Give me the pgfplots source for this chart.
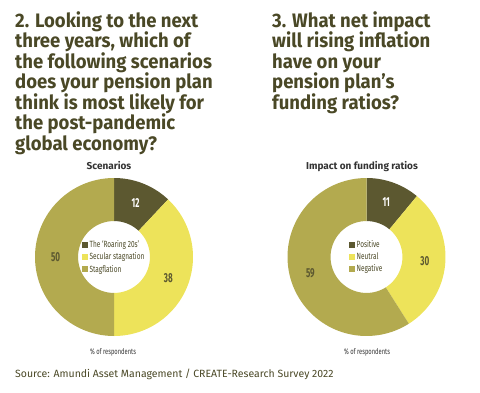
\documentclass[border=0pt]{standalone}
\usepackage{fontspec}
\usepackage{pgfplots}
\pgfplotsset{compat=1.18}
\setmainfont{Fira Sans}
\newfontfamily\headfont[FakeStretch=0.95]{Fira Sans}
\newfontfamily\condfont[FakeStretch=0.72]{Fira Sans}
\newfontfamily\numfont[FakeStretch=0.62]{Fira Sans}
\definecolor{cdark}{HTML}{5C5830}
\definecolor{cyel}{HTML}{EDE35A}
\definecolor{ckhaki}{HTML}{B3AA4F}
\definecolor{ctext}{HTML}{4A4826}
\definecolor{ctitle}{HTML}{333333}

% annular sector from angle #1 to #2 (degrees), outer radius 1, inner 0.455
\newcommand\slice[3]{%
  \addplot[fill=#3, draw=none, domain=0:2, samples=161, variable=\t, forget plot]
   ({(\t<=1.005 ? 1 : 0.455)*cos(\t<=1.005 ? (#1)+((#2)-(#1))*\t : (#2)-((#2)-(#1))*(\t-1.0125)/0.9875)},
    {(\t<=1.005 ? 1 : 0.455)*sin(\t<=1.005 ? (#1)+((#2)-(#1))*\t : (#2)-((#2)-(#1))*(\t-1.0125)/0.9875)});
}
\pgfplotsset{donut/.style={hide axis, scale only axis, width=158pt, height=158pt,
  xmin=-1, xmax=1, ymin=-1, ymax=1, anchor=center, clip=false,
  legend cell align=left,
  legend image code/.code={\fill[##1,draw=none] (0pt,-3pt) rectangle (6pt,3pt);},
  legend style={at={(0.5,0.5)}, anchor=center, draw=none, fill=none,
    font=\condfont\fontsize{9}{10}\selectfont, text=ctext,
    nodes={inner sep=1.3pt}, row sep=1.2pt}}}

\begin{document}
\begin{tikzpicture}
\path[use as bounding box] (0pt,0pt) rectangle (480pt,392pt);

\node[anchor=north west, align=left, inner sep=0pt, text=ctext,
  font=\headfont\bfseries\fontsize{19.5}{20.5}\selectfont] at (15pt,381pt)
  {2. Looking to the next\\three years, which of\\the following scenarios\\does your pension plan\\think is most likely for\\the post-pandemic\\global economy?};
\node[anchor=north west, align=left, inner sep=0pt, text=ctext,
  font=\headfont\bfseries\fontsize{19.5}{20.5}\selectfont] at (272pt,381pt)
  {3. What net impact\\will rising inflation\\have on your\\pension plan’s\\funding ratios?};

\node[anchor=base, text=ctitle, font=\bfseries\fontsize{10}{12}\selectfont] at (109pt,223pt) {Scenarios};
\node[anchor=base, text=ctitle, font=\bfseries\fontsize{10}{12}\selectfont] at (362pt,223pt) {Impact on funding ratios};

\begin{axis}[donut, at={(114pt,135pt)}]
  \addlegendimage{fill=cdark}
  \addlegendimage{fill=cyel}
  \addlegendimage{fill=ckhaki}
  \slice{46.8}{90}{cdark}
  \slice{-90}{46.8}{cyel}
  \slice{-270}{-90}{ckhaki}
  \legend{The ‘Roaring 20s’, Secular stagnation, Stagflation}
  \node[font=\numfont\bfseries\fontsize{13}{14}\selectfont, text=white] at (axis cs:{0.74*cos(68.4)},{0.74*sin(68.4)}) {12};
  \node[font=\numfont\bfseries\fontsize{13}{14}\selectfont, text=cdark] at (axis cs:{0.74*cos(-21.6)},{0.74*sin(-21.6)}) {38};
  \node[font=\numfont\bfseries\fontsize{13}{14}\selectfont, text=cdark] at (axis cs:{0.74*cos(-180)},{0.74*sin(-180)}) {50};
\end{axis}

\begin{axis}[donut, at={(366.5pt,135pt)}]
  \addlegendimage{fill=cdark}
  \addlegendimage{fill=cyel}
  \addlegendimage{fill=ckhaki}
  \slice{50.4}{90}{cdark}
  \slice{-57.6}{50.4}{cyel}
  \slice{-270}{-57.6}{ckhaki}
  \legend{Positive, Neutral, Negative}
  \node[font=\numfont\bfseries\fontsize{13}{14}\selectfont, text=white] at (axis cs:{0.74*cos(70.2)},{0.74*sin(70.2)}) {11};
  \node[font=\numfont\bfseries\fontsize{13}{14}\selectfont, text=cdark] at (axis cs:{0.74*cos(-3.6)},{0.74*sin(-3.6)}) {30};
  \node[font=\numfont\bfseries\fontsize{13}{14}\selectfont, text=cdark] at (axis cs:{0.74*cos(-163.8)},{0.74*sin(-163.8)}) {59};
\end{axis}

\node[anchor=base, text=ctitle, font=\condfont\fontsize{8}{9}\selectfont] at (113pt,38pt) {\% of respondents};
\node[anchor=base, text=ctitle, font=\condfont\fontsize{8}{9}\selectfont] at (367pt,38pt) {\% of respondents};

\node[anchor=base west, inner sep=0pt, text=ctext, font=\fontsize{10.5}{13}\selectfont] at (15pt,15pt) {Source: Amundi Asset Management / CREATE-Research Survey 2022};
\end{tikzpicture}
\end{document}
